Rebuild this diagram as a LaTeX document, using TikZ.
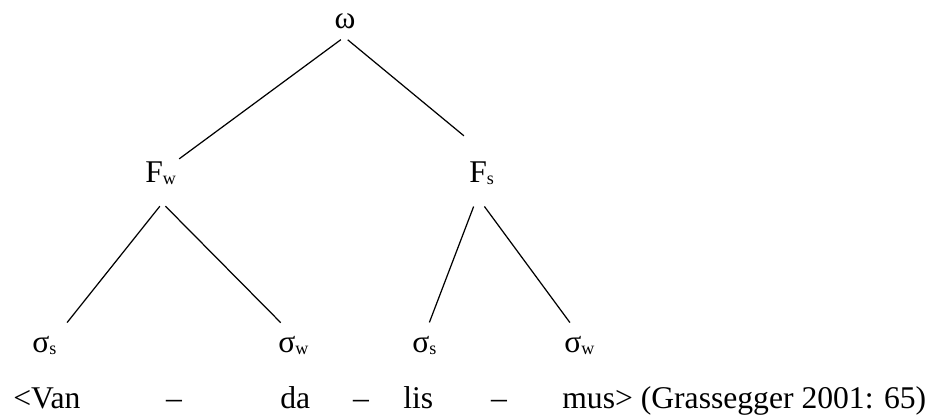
\documentclass[tikz,border=0pt]{standalone}
\usepackage{fontspec}
\setmainfont{Liberation Serif}
\usetikzlibrary{positioning}
\newcommand{\lowsub}[1]{\raisebox{-1.7pt}{\fontsize{10.3}{12}\selectfont #1}}

\begin{document}
\begin{tikzpicture}[x=0.02cm, y=-0.02cm,
        every node/.style={inner sep=0pt, font=\fontsize{18}{21}\selectfont},
        lbl/.style={anchor=base west},
        branch/.style={line width=0.7pt}]
        \useasboundingbox (0,0) rectangle (938,414);

        \node[anchor=base] (omega) at (345,28) {ω};
        \node[lbl] (fw) at (145,182) {F\lowsub{w}};
        \node[lbl] (fs) at (469,182) {F\lowsub{s}};
        \node[lbl] (ss1) at (32,352) {σ\lowsub{s}};
        \node[lbl] (sw1) at (278,352) {σ\lowsub{w}};
        \node[lbl] (ss2) at (412,352) {σ\lowsub{s}};
        \node[lbl] (sw2) at (564,352) {σ\lowsub{w}};

        \draw[branch, shorten <=0.37cm, shorten >=0.07cm] (omega.south east) -- (fw.north east);
        \draw[branch, shorten <=0.35cm, shorten >=0.79cm] (omega.south west) -- (fs.north east);
        \draw[branch, shorten <=0.53cm, shorten >=0.33cm] (fw.south east) -- (ss1.north east);
        \draw[branch, shorten <=0.58cm, shorten >=0.36cm] (fw.south west) -- (sw1.north);
        \draw[branch, shorten <=0.45cm, shorten >=0.28cm] (fs.south) -- (ss2.north);
        \draw[branch, shorten <=0.52cm, shorten >=0.32cm] (fs.south west) -- (sw2.north);

        \node[lbl] (van) at (13,408) {<Van};
        \node[anchor=base] (dash1) at (174,408) {–};
        \node[lbl] (da) at (280,408) {da};
        \node[anchor=base] (dash2) at (361,408) {–};
        \node[lbl] (lis) at (403,408) {lis};
        \node[anchor=base] (dash3) at (499,408) {–};
        \node[lbl] (mus) at (562,408) {mus> (Grassegger 2001: 65)};
      \end{tikzpicture}
\end{document}
